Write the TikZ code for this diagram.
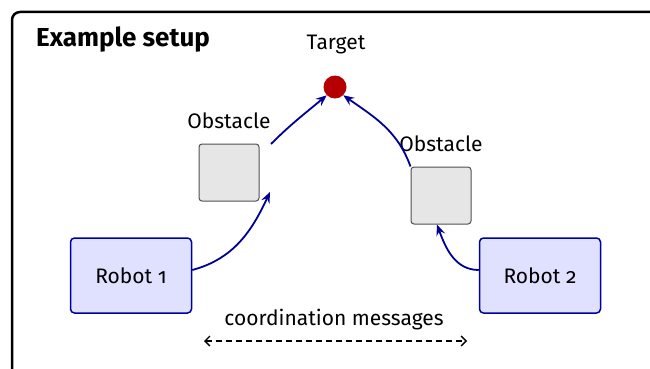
\documentclass[tikz,border=0pt]{standalone}
\usepackage{fontspec}
\setmainfont{Fira Sans}[Numbers=OldStyle]
\usetikzlibrary{arrows.meta}
\definecolor{robotfill}{RGB}{224,224,255}
\definecolor{robotline}{RGB}{0,0,160}
\definecolor{obsfill}{RGB}{230,230,230}
\definecolor{obsline}{RGB}{80,80,80}
\definecolor{targetred}{RGB}{180,0,0}
\definecolor{pathblue}{RGB}{0,0,150}
\tikzset{
  robotbox/.style={draw=robotline, fill=robotfill, line width=1.5pt, rounded corners=4pt,
    minimum width=121pt, minimum height=75pt, inner sep=0pt, font=\fontsize{21}{25}\selectfont},
  obsbox/.style={draw=obsline, fill=obsfill, line width=1pt, rounded corners=3pt,
    minimum width=60pt, minimum height=57pt, inner sep=0pt},
  lbl/.style={inner sep=0pt, font=\fontsize{21}{25}\selectfont},
  route/.style={draw=pathblue, line width=1.8pt, -{Stealth[length=11pt,width=9pt,inset=4pt]}},
  msg/.style={line width=1.4pt, dash pattern=on 6pt off 4pt, {Straight Barb[length=5pt,width=10pt]}-{Straight Barb[length=5pt,width=10pt]}}
}
\begin{document}
\begin{tikzpicture}[x=1pt,y=-1pt]
  \useasboundingbox (0,0) rectangle (650,369);
  \begin{scope}
    \clip (0,0) rectangle (650,369);
    \draw[line width=2.5pt, rounded corners=8pt] (12,12) rectangle (680,400);
  \end{scope}

  % title
  \node[anchor=west, inner sep=0pt, font=\fontsize{26}{30}\selectfont\bfseries] (title) at (36,40) {Example setup};

  % target
  \node[circle, fill=targetred, minimum size=23pt, inner sep=0pt] (target) at (335,87) {};
  \node[lbl] (targetlbl) at (336,45) {Target};

  % obstacles
  \node[obsbox] (obs1) at (229,172.5) {};
  \node[lbl] (obs1lbl) at (229,121) {Obstacle};
  \node[obsbox] (obs2) at (441,195.5) {};
  \node[lbl] (obs2lbl) at (441,144) {Obstacle};

  % robots
  \node[robotbox] (r1) at (131,275.5) {Robot 1};
  \node[robotbox] (r2) at (540,275.5) {Robot 2};

  % way points beside the first obstacle
  \coordinate (w1) at (270,192);
  \coordinate (w2) at (271,144);

  % routes
  \draw[route] (r1.east |- 0,270) to[out=15,in=-115] (w1);
  \draw[route] (w2) to[out=45,in=-140] (target.south west);
  \draw[route] (r2.west |- 0,270) to[out=180,in=-70] (obs2.south -| 437,0);
  \draw[route] (obs2.north west) to[out=110,in=-35] (target.south east);

  % messages
  \coordinate (m1) at (204,341);
  \coordinate (m2) at (467,341);
  \draw[msg] (m1) -- (m2);
  \node[lbl] (msglbl) at (334,320) {coordination messages};
\end{tikzpicture}
\end{document}
